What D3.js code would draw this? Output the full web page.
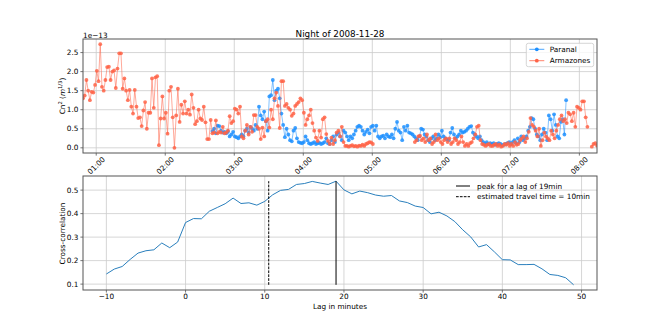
<!DOCTYPE html>
<html><head><meta charset="utf-8">
<script src="https://cdn.jsdelivr.net/npm/d3@7"></script>
<style>body{margin:0;background:#fff}svg{display:block}text{font-family:"DejaVu Sans",sans-serif;fill:#000}</style>
</head><body><svg id="c" width="664" height="332"></svg>
<script>
// ---------------- data ----------------
const chartTitle = "Night of 2008-11-28";
const seriesNames = ["Paranal", "Armazones"];
const seriesColors = ["#1E90FF", "#FF6347"];
const stepMinutes = 1.5;
const dayParts = [2008, 10, 28];

const paranalStart = "02:41:00";
const paranal = [0.44,0.5,0.38,0.58,0.57,0.45,0.4,0.42,0.38,0.43,0.3,
0.35,0.42,0.3,0.28,0.25,0.3,
0.35,0.3,0.45,0.5,0.4,0.55,0.5,0.45,0.6,0.5,
1.08,0.85,0.75,0.95,
0.7,0.45,1.35,1.38,
1.78,1.25,1.5,
1.55,1.3,0.9,
0.6,0.28,0.5,
0.35,0.2,0.17,
0.45,0.52,0.25,0.15,0.13,
0.12,0.15,0.3,0.2,0.12,0.1,0.12,0.15,0.1,0.12,0.13,0.1,0.12,0.15,0.25,0.12,0.1,
0.2,0.3,0.15,0.35,0.4,0.3,0.2,0.45,
0.4,0.3,0.2,0.3,0.25,0.35,0.45,
0.55,0.58,0.55,
0.45,0.35,0.42,0.48,
0.38,0.55,0.58,0.45,0.58,0.3,
0.25,0.3,0.32,0.25,0.35,0.3,0.28,0.35,0.25,
0.5,0.68,
0.45,0.4,0.2,0.55,
0.45,0.58,
0.4,0.38,0.35,0.3,0.25,0.2,0.3,
0.5,0.48,0.35,
0.3,0.2,0.15,0.25,0.3,0.2,0.25,0.35,0.28,0.45,
0.3,0.25,0.22,0.2,0.4,0.52,0.35,0.25,0.3,
0.35,0.45,0.4,0.42,0.45,0.5,0.55,0.57,0.4,
0.35,0.3,0.25,0.3,0.2,0.15,0.1,0.15,0.1,0.12,
0.1,0.12,0.08,0.1,0.12,0.1,0.07,0.08,0.1,0.12,0.15,
0.1,0.15,0.2,0.12,0.25,0.15,0.3,0.2,0.25,
0.3,0.45,0.55,0.78,0.75,0.5,0.35,0.3,
0.2,0.35,0.5,0.4,0.2,0.85,0.75,0.45,
0.88,0.6,0.3,0.25,0.68,0.75,0.35,1.25];

const armazonesStarts = ["00:48:30", "05:37:00", "08:10:50"];
const armazones1 = [1.3,1.37,1.78,1.5,1.25,1.47,1.45,1.65,2.02,1.75,2.72,
1.6,1.5,1.78,2.12,2.13,1.78,2.0,2.03,1.57,2.08,
2.48,2.48,1.55,1.82,1.5,1.25,1.52,1.08,0.9,1.52,
1.08,0.78,0.8,0.57,0.98,1.2,0.5,0.92,0.92,1.82,
1.05,1.85,1.88,0.07,
0.77,1.35,0.77,0.92,0.37,1.5,1.6,0.8,0.0,
0.85,1.55,0.68,1.13,0.9,1.22,0.9,1.0,0.87,1.4,
1.05,0.62,0.7,1.0,0.77,0.73,1.08,0.67,0.23,0.23,
0.73,0.38,
0.4,0.72,0.38,0.42,0.4,0.55,0.38,0.4,0.45,0.83,
0.65,0.7,1.03,1.0,0.9,1.08,0.3,0.25,0.45,0.6,
0.35,0.55,0.42,0.86,0.86,0.55,0.5,0.23,0.53,0.3,
0.7,0.75,0.53,1.0,0.75,1.3,1.45,1.1,0.52,1.75,
1.75,1.1,1.15,1.05,1.0,0.84,0.9,1.1,1.15,1.2,
1.3,1.25,0.92,0.6,0.75,0.85,1.0,0.65,0.45,0.27,
0.18,0.45,0.27,0.75,0.8,0.36,0.18,0.1,0.27,0.1,
0.2,0.4,0.45,0.3,0.55,0.15,0.05,0.05,0.03,0.05,
0.07,0.04,0.05,0.03,0.06,0.05,0.08,0.05,0.1,0.12,
0.15,0.14,0.1];
const armazones2 = [0.15,0.2,0.3,0.32,0.2,0.25,0.15,0.35,
0.2,0.25,0.1,0.15,0.35,0.2,0.25,0.15,
0.1,0.2,0.25,0.15,0.25,0.1,
0.15,0.25,0.2,0.1,0.15,0.3,0.15,0.05,
0.1,0.05,0.12,0.15,0.25,0.35,0.55,
0.58,0.2,0.1,0.08,0.05,0.08,0.1,0.05,
0.05,0.08,0.1,0.05,0.08,0.03,0.05,0.1,0.08,0.12,
0.05,0.1,0.05,0.15,0.08,0.1,0.2,0.25,0.3,
0.15,0.25,0.42,0.78,0.6,0.55,0.45,0.3,
0.5,0.05,0.2,0.4,0.3,0.25,0.2,0.45,
0.35,0.25,0.45,0.6,0.75,0.85,0.7,0.75,
0.65,0.92,0.88,0.7,0.92,0.55,
1.08,1.05,1.0,1.22,
1.22,0.8,0.55];
const armazones3 = [0.03,0.1,0.12,0.06];
const yScaleExponent = "1e\u221213";
const yTicksTop = [0, 0.5, 1.0, 1.5, 2.0, 2.5];

const lags = [-10,-9,-8,-7,-6,-5,-4,-3,-2,-1,0,1,2,3,4,5,6,7,8,9,10,11,12,13,14,15,16,17,18,19,
20,21,22,23,24,25,26,27,28,29,30,31,32,33,34,35,36,37,38,39,40,41,42,43,44,45,46,47,48,49];
const correlation = [0.143,0.164,0.175,0.205,0.232,0.242,0.246,0.275,0.255,0.279,
0.362,0.379,0.378,0.41,0.426,0.442,0.466,0.443,0.446,0.436,
0.452,0.48,0.499,0.503,0.524,0.528,0.537,0.53,0.524,0.538,
0.501,0.484,0.496,0.489,0.479,0.474,0.477,0.454,0.447,0.432,
0.426,0.399,0.406,0.39,0.366,0.331,0.301,0.258,0.268,0.237,
0.204,0.203,0.183,0.183,0.184,0.165,0.141,0.137,0.127,0.097];
const peakLag = 19;
const travelLag = 10.5;
const lagTicks = [-10, 0, 10, 20, 30, 40, 50];
const corrTicks = [0.1, 0.2, 0.3, 0.4, 0.5];
const legendBottom = ["peak for a lag of 19min", "estimated travel time = 10min"];

// ---------------- layout ----------------
const svg = d3.select("#c");
svg.append("rect").attr("width",664).attr("height",332).attr("fill","#fff");
const L = 83, R = 597, T1 = 39, B1 = 153, T2 = 176, B2 = 290;
const FS = 7.3, GRID = "#cccccc", SPINE = "#555";

function parseT(s){ const [h,m,sec] = s.split(":").map(Number); return Date.UTC(dayParts[0],dayParts[1],dayParts[2],h,m,sec); }
function series(start, vals){ const t0 = parseT(start); return vals.map((v,i)=>({t:new Date(t0 + i*stepMinutes*60000), v})); }

const par = series(paranalStart, paranal);
const armSegs = [series(armazonesStarts[0], armazones1), series(armazonesStarts[1], armazones2), series(armazonesStarts[2], armazones3)];
const allArm = armSegs.flat();
const allPts = par.concat(allArm);

const x1 = d3.scaleUtc().domain([d3.min(allArm, d=>d.t), d3.max(allArm, d=>d.t)]).range([L, R]);
const ymin = d3.min(allPts, d=>d.v), ymax = d3.max(allPts, d=>d.v), yp = (ymax-ymin)*0.05;
const y1 = d3.scaleLinear().domain([ymin-yp, ymax+yp]).range([B1, T1]);

svg.append("defs").append("clipPath").attr("id","clip1").append("rect")
  .attr("x",L).attr("y",T1).attr("width",R-L).attr("height",B1-T1);

const hourTicks = x1.ticks(d3.utcHour.every(1));
const g1 = svg.append("g");
g1.selectAll(".vg").data(hourTicks).join("line").attr("x1",d=>x1(d)).attr("x2",d=>x1(d)).attr("y1",T1).attr("y2",B1).attr("stroke",GRID).attr("stroke-width",0.8);
g1.selectAll(".hg").data(yTicksTop).join("line").attr("x1",L).attr("x2",R).attr("y1",d=>y1(d)).attr("y2",d=>y1(d)).attr("stroke",GRID).attr("stroke-width",0.8);

const plot1 = svg.append("g").attr("clip-path","url(#clip1)");
const line1 = d3.line().x(d=>x1(d.t)).y(d=>y1(d.v));
function drawSeries(segs, color){
  const g = plot1.append("g");
  segs.forEach(s=>{
    g.append("path").attr("d", line1(s)).attr("fill","none").attr("stroke",color).attr("stroke-width",1).attr("stroke-opacity",0.55);
  });
  g.selectAll("circle").data(segs.flat()).join("circle").attr("cx",d=>x1(d.t)).attr("cy",d=>y1(d.v)).attr("r",1.9).attr("fill",color).attr("fill-opacity",0.85);
}
drawSeries([par], seriesColors[0]);
drawSeries(armSegs, seriesColors[1]);

svg.append("rect").attr("x",L).attr("y",T1).attr("width",R-L).attr("height",B1-T1).attr("fill","none").attr("stroke",SPINE).attr("stroke-width",1);

const fmt = d3.utcFormat("%H:%M");
hourTicks.forEach(t=>{
  const xx = x1(t);
  svg.append("line").attr("x1",xx).attr("x2",xx).attr("y1",B1).attr("y2",B1+2.6).attr("stroke",SPINE).attr("stroke-width",0.8);
  svg.append("text").attr("transform",`translate(${xx},${165.5}) rotate(-45)`).attr("text-anchor","middle").attr("dy","0.35em").attr("font-size",FS).text(fmt(t));
});
yTicksTop.forEach(v=>{
  const yy = y1(v);
  svg.append("line").attr("x1",L-2.6).attr("x2",L).attr("y1",yy).attr("y2",yy).attr("stroke",SPINE).attr("stroke-width",0.8);
  svg.append("text").attr("x",L-4.6).attr("y",yy).attr("dy","0.35em").attr("text-anchor","end").attr("font-size",FS).text(d3.format(".1f")(v));
});
svg.append("text").attr("x",L).attr("y",37.5).attr("font-size",FS).text(yScaleExponent);
svg.append("text").attr("x",(L+R)/2).attr("y",36.5).attr("text-anchor","middle").attr("font-size",8.8).text(chartTitle);

const yl = svg.append("text").attr("transform",`translate(65,96) rotate(-90)`).attr("text-anchor","middle").attr("font-size",FS);
yl.append("tspan").text("Cn");
yl.append("tspan").attr("font-size",5.2).attr("dy",-3).text("2");
yl.append("tspan").attr("dy",3).text(" (");
yl.append("tspan").attr("font-style","italic").text("m");
yl.append("tspan").attr("font-size",5.2).attr("dy",-3).text("1/3");
yl.append("tspan").attr("dy",3).text(")");

const lg = svg.append("g");
lg.append("rect").attr("x",526.3).attr("y",43.3).attr("width",67.4).attr("height",23.4).attr("rx",2)
  .attr("fill","#fff").attr("fill-opacity",0.8).attr("stroke","#cccccc").attr("stroke-width",0.8);
seriesNames.forEach((n,i)=>{
  const yy = 49.3 + i*11.4;
  lg.append("line").attr("x1",529.3).attr("x2",544.3).attr("y1",yy).attr("y2",yy).attr("stroke",seriesColors[i]).attr("stroke-width",1).attr("stroke-opacity",0.8);
  lg.append("circle").attr("cx",536.8).attr("cy",yy).attr("r",1.9).attr("fill",seriesColors[i]);
  lg.append("text").attr("x",549.7).attr("y",yy).attr("dy","0.35em").attr("font-size",FS).text(n);
});

// ---------------- bottom ----------------
const xpad = (d3.max(lags)-d3.min(lags))*0.05;
const x2 = d3.scaleLinear().domain([d3.min(lags)-xpad, d3.max(lags)+xpad]).range([L, R]);
const cmin = d3.min(correlation), cmax = d3.max(correlation), cp = (cmax-cmin)*0.05;
const y2 = d3.scaleLinear().domain([cmin-cp, cmax+cp]).range([B2, T2]);
const g2 = svg.append("g");
g2.selectAll(".vg2").data(lagTicks).join("line").attr("x1",d=>x2(d)).attr("x2",d=>x2(d)).attr("y1",T2).attr("y2",B2).attr("stroke",GRID).attr("stroke-width",0.8);
g2.selectAll(".hg2").data(corrTicks).join("line").attr("x1",L).attr("x2",R).attr("y1",d=>y2(d)).attr("y2",d=>y2(d)).attr("stroke",GRID).attr("stroke-width",0.8);

const cdata = lags.map((l,i)=>({l, c:correlation[i]}));
svg.append("path").attr("d", d3.line().x(d=>x2(d.l)).y(d=>y2(d.c))(cdata)).attr("fill","none").attr("stroke","#2a7fbd").attr("stroke-width",1);
svg.append("line").attr("x1",x2(peakLag)).attr("x2",x2(peakLag)).attr("y1",y2(cmin)).attr("y2",y2(cmax)).attr("stroke","#000").attr("stroke-width",1);
svg.append("line").attr("x1",x2(travelLag)).attr("x2",x2(travelLag)).attr("y1",y2(cmin)).attr("y2",y2(cmax)).attr("stroke","#000").attr("stroke-width",1).attr("stroke-dasharray","2.7,1.2");

svg.append("rect").attr("x",L).attr("y",T2).attr("width",R-L).attr("height",B2-T2).attr("fill","none").attr("stroke",SPINE).attr("stroke-width",1);
lagTicks.forEach(v=>{
  const xx = x2(v);
  svg.append("line").attr("x1",xx).attr("x2",xx).attr("y1",B2).attr("y2",B2+2.6).attr("stroke",SPINE).attr("stroke-width",0.8);
  svg.append("text").attr("x",xx).attr("y",299.3).attr("text-anchor","middle").attr("font-size",FS).text(v<0?"\u2212"+Math.abs(v):String(v));
});
corrTicks.forEach(v=>{
  const yy = y2(v);
  svg.append("line").attr("x1",L-2.6).attr("x2",L).attr("y1",yy).attr("y2",yy).attr("stroke",SPINE).attr("stroke-width",0.8);
  svg.append("text").attr("x",L-4.6).attr("y",yy).attr("dy","0.35em").attr("text-anchor","end").attr("font-size",FS).text(d3.format(".1f")(v));
});
svg.append("text").attr("x",(L+R)/2).attr("y",308.5).attr("text-anchor","middle").attr("font-size",FS).text("Lag in minutes");
svg.append("text").attr("transform",`translate(65,233.5) rotate(-90)`).attr("text-anchor","middle").attr("font-size",FS).text("Cross-correlation");

legendBottom.forEach((n,i)=>{
  const yy = 186 + i*10.7;
  svg.append("line").attr("x1",456).attr("x2",470).attr("y1",yy).attr("y2",yy).attr("stroke","#000").attr("stroke-width",1)
    .attr("stroke-dasharray", i===1 ? "2.7,1.2" : null);
  svg.append("text").attr("x",477).attr("y",yy).attr("dy","0.35em").attr("font-size",FS).text(n);
});
</script></body></html>
